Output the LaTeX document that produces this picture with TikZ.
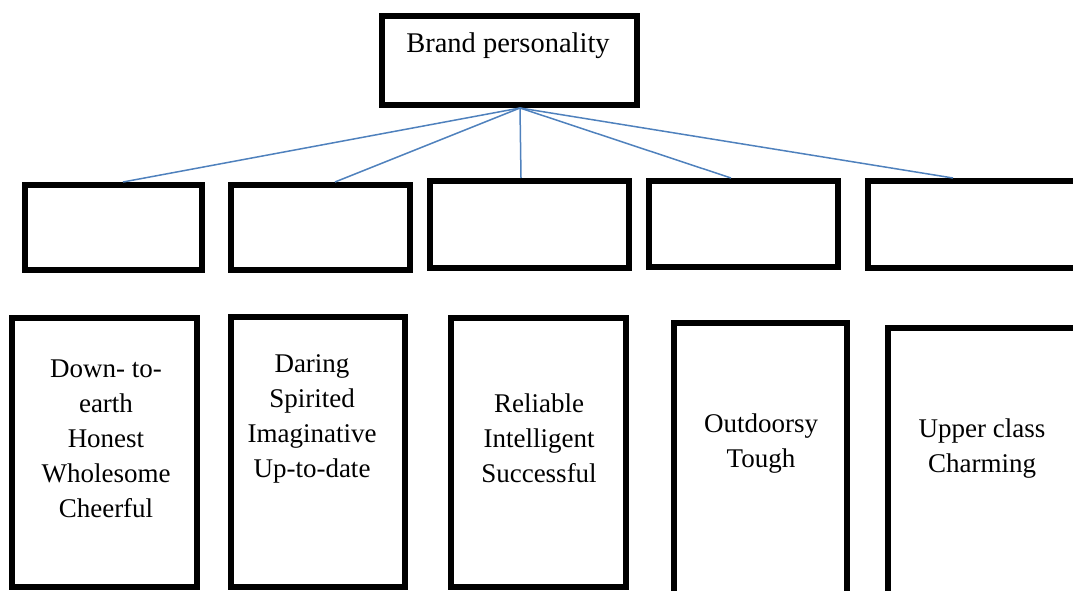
\documentclass[tikz,border=0pt]{standalone}
\usepackage{fontspec}
\setmainfont{Liberation Serif}
\definecolor{linkblue}{RGB}{79,129,189}

\begin{document}
\begin{tikzpicture}[x=1pt,y=-1pt]
	\tikzset{BoxStyle/.style = {rectangle, draw, line width=6pt, inner sep=0pt},
		TraitStyle/.style = {anchor=base, align=center, inner sep=0pt, font=\fontsize{27}{35}\selectfont},
		LinkStyle/.style = {draw=linkblue, line width=1.5pt}}
	\useasboundingbox (0,0) rectangle (1073,591);
	\clip (0,0) rectangle (1073,591);
	% top box
	\node[BoxStyle, minimum width=255pt, minimum height=89pt] (brand) at (509.5,60.5) {};
	\node[anchor=base, inner sep=0pt, font=\fontsize{28.5}{34}\selectfont] (brandtext) at (508,53) {Brand personality};
	\coordinate (hub) at ([xshift=10.5pt]brand.south);
	% empty dimension boxes
	\node[BoxStyle, minimum width=177pt, minimum height=85pt] (f1) at (113.5,227.5) {};
	\node[BoxStyle, minimum width=179pt, minimum height=85pt] (f2) at (320.5,227.5) {};
	\node[BoxStyle, minimum width=199pt, minimum height=87pt] (f3) at (529.5,224.5) {};
	\node[BoxStyle, minimum width=189pt, minimum height=86pt] (f4) at (743.5,224) {};
	\node[BoxStyle, minimum width=210pt, minimum height=87pt] (f5) at (973,224.5) {};
	\draw[LinkStyle] (hub) -- ([xshift=9.5pt]f1.north);
	\draw[LinkStyle] (hub) -- ([xshift=14.5pt]f2.north);
	\draw[LinkStyle] (hub) -- ([xshift=-8.5pt]f3.north);
	\draw[LinkStyle] (hub) -- ([xshift=-12.5pt]f4.north);
	\draw[LinkStyle] (hub) -- ([xshift=-20pt]f5.north);
	% trait boxes (text placed by its last baseline)
	\node[BoxStyle, minimum width=185pt, minimum height=269pt] (t1) at (104.5,452.5) {};
	\node[BoxStyle, minimum width=174pt, minimum height=270pt] (t2) at (318,452) {};
	\node[BoxStyle, minimum width=175pt, minimum height=269pt] (t3) at (538.5,452.5) {};
	\node[BoxStyle, minimum width=173pt, minimum height=273pt] (t4) at (760.5,459.5) {};
	\node[BoxStyle, minimum width=192pt, minimum height=268pt] (t5) at (984,462) {};
	\node[TraitStyle] (l1) at (106,517) {Down- to-\\earth\\Honest\\Wholesome\\Cheerful};
	\node[TraitStyle] (l2) at (312,477) {Daring\\Spirited\\Imaginative\\Up-to-date};
	\node[TraitStyle] (l3) at (539,482) {Reliable\\Intelligent\\Successful};
	\node[TraitStyle] (l4) at (761,467) {Outdoorsy\\Tough};
	\node[TraitStyle] (l5) at (982,472) {Upper class\\Charming};
\end{tikzpicture}
\end{document}
